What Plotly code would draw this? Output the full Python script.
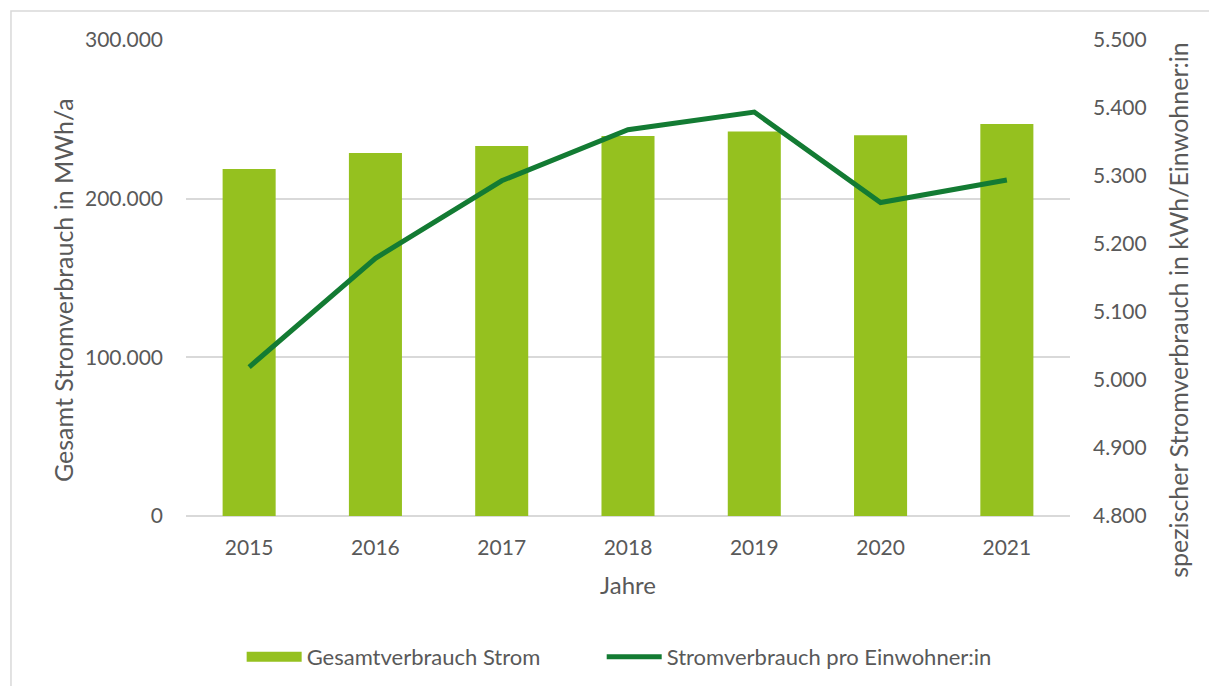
import plotly.graph_objects as go

# Stromverbrauch je Jahr
jahre = ["2015", "2016", "2017", "2018", "2019", "2020", "2021"]
gesamt_mwh = [218700, 228800, 233200, 239500, 242400, 239900, 247000]
pro_einwohner_kwh = [5019, 5179, 5293, 5368, 5394, 5261, 5294]

font_family = "Lato, 'Open Sans', sans-serif"
text_color = "#595959"
bar_color = "#95C11F"
line_color = "#137B33"

fig = go.Figure()

fig.add_trace(go.Bar(
    x=jahre, y=gesamt_mwh, name="Gesamtverbrauch Strom",
    marker=dict(color=bar_color, line=dict(width=0)),
    width=0.42, showlegend=False,
))

# legend entry for the bars (wide block like in the original),
# trailing non-breaking spaces give the wider gap between entries
fig.add_trace(go.Scatter(
    x=[None], y=[None], name="Gesamtverbrauch Strom" + "\u00a0" * 10,
    mode="lines", line=dict(color=bar_color, width=14),
))

fig.add_trace(go.Scatter(
    x=jahre, y=pro_einwohner_kwh, name="Stromverbrauch pro Einwohner:in",
    mode="lines", yaxis="y2",
    line=dict(color=line_color, width=5),
))

fig.update_layout(
    width=1217, height=686,
    margin=dict(l=178, r=155, t=32, b=178),
    paper_bgcolor="white", plot_bgcolor="white",
    separators=",.",
    font=dict(family=font_family, size=21, color=text_color),
    showlegend=True,
    legend=dict(orientation="h", x=0.49, xanchor="center", y=-0.296, yanchor="middle",
                font=dict(size=22, color=text_color), traceorder="normal",
                itemwidth=55),
    xaxis=dict(
        title=dict(text="Jahre", standoff=19, font=dict(size=24)),
        showgrid=False, showline=False, ticks="", tickfont=dict(size=21),
        ticklabelstandoff=17, automargin=False,
    ),
    yaxis=dict(
        range=[0, 300000], dtick=100000, tickformat=",.0f",
        showgrid=True, gridcolor="#D9D9D9", gridwidth=1.5,
        zeroline=True, zerolinecolor="#D9D9D9", zerolinewidth=1.5,
        showline=False, ticks="", ticklabelstandoff=22, automargin=False,
    ),
    yaxis2=dict(
        range=[4800, 5500], dtick=100, tickformat=",.0f",
        overlaying="y", side="right", showgrid=False, zeroline=False,
        showline=False, ticks="", ticklabelstandoff=22, automargin=False,
    ),
    annotations=[
        dict(text="Gesamt Stromverbrauch in MWh/a", textangle=-90,
             xref="paper", yref="paper", x=-0.139, y=0.475,
             xanchor="center", yanchor="middle", showarrow=False,
             font=dict(size=25, color=text_color)),
        dict(text="spezischer Stromverbrauch in kWh/Einwohner:in", textangle=-90,
             xref="paper", yref="paper", x=1.122, y=0.433,
             xanchor="center", yanchor="middle", showarrow=False,
             font=dict(size=25, color=text_color)),
    ],
    shapes=[dict(
        type="rect", xref="paper", yref="paper",
        x0=-0.198, x1=1.175, y0=-0.376, y1=1.061,
        line=dict(color="#D9D9D9", width=1.5), fillcolor="rgba(0,0,0,0)", layer="below",
    )],
)

fig.write_html("out.html")
